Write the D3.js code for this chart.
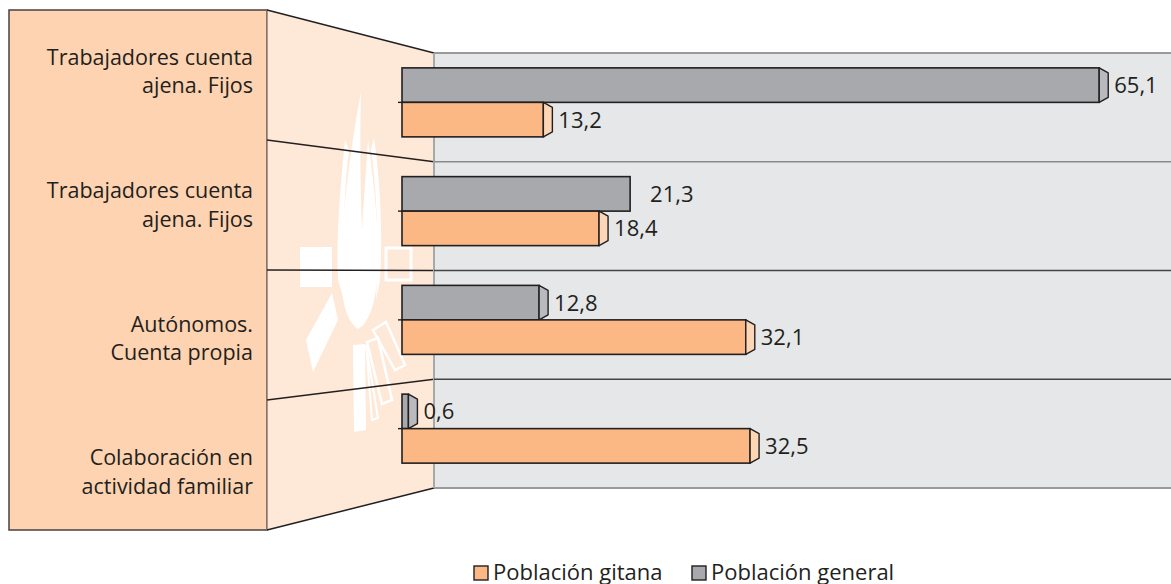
<!DOCTYPE html>
<html><head><meta charset="utf-8">
<script src="https://cdn.jsdelivr.net/npm/d3@7"></script>
<style>body{margin:0;background:#fff}svg{display:block}text{font-family:"Open Sans",sans-serif;fill:#231f20}</style>
</head><body><svg id="c" width="1171" height="584"></svg>
<script>
const categories = [
  ["Trabajadores cuenta","ajena. Fijos"],
  ["Trabajadores cuenta","ajena. Fijos"],
  ["Autónomos.","Cuenta propia"],
  ["Colaboración en","actividad familiar"]
];
const general = [65.1, 21.3, 12.8, 0.6];
const gitana  = [13.2, 18.4, 32.1, 32.5];
const seriesNames = ["Población gitana", "Población general"];
const noCap = [false, true, false, false]; // general bar 2 drawn without end cap in original

const svg = d3.select("#c");
const fmt = v => d3.format(".1f")(v).replace(".", ",");
const idx = d3.range(categories.length);

const plotL = 434, plotR = 1171, plotT = 53, plotB = 488;
const panL = 9, panR = 267, panT = 10, panB = 530;
const y = d3.scaleBand().domain(idx).range([plotT, plotB]);
const yL = d3.scaleBand().domain(idx).range([panT, panB]);
const yLab = d3.scaleBand().domain(idx).range([3, 537]);
const x = d3.scaleLinear().domain([0, 70]).range([402, 402 + 70 * 10.71]);
const barH = 34.5, capW = 9, capIn = 5;

// left panel
svg.append("rect").attr("x", panL).attr("y", panT).attr("width", panR - panL).attr("height", panB - panT)
  .attr("fill", "#fdd3b1").attr("stroke", "#4a4040").attr("stroke-width", 1.5);
// trapezoid side
svg.append("path").attr("d", `M${panR},${panT}L${plotL},${plotT}L${plotL},${plotB}L${panR},${panB}Z`).attr("fill", "#fee9d8");
svg.append("line").attr("x1", panR).attr("x2", panR).attr("y1", panT).attr("y2", panB).attr("stroke", "#8c7b72").attr("stroke-width", 1.5);

// watermark logo (decoration)
const wm = svg.append("g").attr("fill", "#fff").attr("stroke", "none");
wm.append("path").attr("d", "M361,92 C352,140 345,190 342,240 C338,290 344,320 358,329 C372,322 380,290 378,240 C376,200 372,170 368,140 C366,170 364,200 362,230 C360,180 360,130 361,92Z");
wm.append("path").attr("d", "M345,140 C340,190 336,240 338,280 L344,300 C342,250 344,190 349,150Z");
wm.append("path").attr("d", "M374,138 C380,180 383,230 380,280 L376,300 C379,250 377,190 371,150Z");
wm.append("rect").attr("x", 300).attr("y", 247).attr("width", 32).attr("height", 40);
wm.append("rect").attr("x", 386).attr("y", 248).attr("width", 25).attr("height", 32).attr("fill", "none").attr("stroke", "#fff").attr("stroke-width", 3);
wm.append("path").attr("d", "M332,293 L338,320 L313,372 L306,340Z");
wm.append("path").attr("d", "M353,345 L365,344 L366,430 L354,432Z");
wm.append("path").attr("d", "M367,342 L378,338 L392,400 L382,404Z").attr("fill", "none").attr("stroke", "#fff").attr("stroke-width", 2.5);
wm.append("path").attr("d", "M373,330 L386,322 L405,365 L395,370Z").attr("fill", "none").attr("stroke", "#fff").attr("stroke-width", 2.5);
wm.append("path").attr("d", "M366,345 L372,420 L378,418Z").attr("fill", "none").attr("stroke", "#fff").attr("stroke-width", 2);

// trapezoid edges
svg.append("line").attr("x1", panR).attr("y1", panT).attr("x2", plotL).attr("y2", plotT).attr("stroke", "#231f20").attr("stroke-width", 1.5);
svg.append("line").attr("x1", panR).attr("y1", panB).attr("x2", plotL).attr("y2", plotB).attr("stroke", "#231f20").attr("stroke-width", 1.5);
// divider lines across side
idx.slice(1).forEach(i => {
  svg.append("line").attr("x1", panR).attr("y1", yL(i)).attr("x2", plotL).attr("y2", y(i))
    .attr("stroke", "#231f20").attr("stroke-width", 1.5);
});

// plot area
svg.append("rect").attr("x", plotL).attr("y", plotT).attr("width", plotR - plotL).attr("height", plotB - plotT).attr("fill", "#e6e7e8");
svg.append("line").attr("x1", plotL).attr("x2", plotR).attr("y1", plotT).attr("y2", plotT).attr("stroke", "#9a9a9c").attr("stroke-width", 2);
svg.append("line").attr("x1", plotL).attr("x2", plotR).attr("y1", plotB).attr("y2", plotB).attr("stroke", "#9a9a9c").attr("stroke-width", 2);
svg.append("line").attr("x1", plotL).attr("x2", plotL).attr("y1", plotT).attr("y2", plotB).attr("stroke", "#a7a8aa").attr("stroke-width", 2);
idx.slice(1).forEach(i => {
  svg.append("line").attr("x1", plotL).attr("x2", plotR).attr("y1", y(i)).attr("y2", y(i))
    .attr("stroke", i === 1 ? "#8a8a8c" : "#444446").attr("stroke-width", 1.5);
});

// category labels
const cat = svg.append("g");
idx.forEach(i => {
  const cy = yLab(i) + yLab.bandwidth() / 2;
  const t = cat.append("text").attr("text-anchor", "end").attr("font-size", 21.5).attr("x", 253);
  categories[i].forEach((ln, j) => {
    t.append("tspan").attr("x", 253).attr("y", cy - 5 + j * 28.5).text(ln);
  });
});

// bars
const bars = [
  {vals: general, fill: "#a7a9ac", cap: "#b9babd", off: -barH},
  {vals: gitana, fill: "#fbb884", cap: "#fdd6b5", off: 0}
];
bars.forEach((s, si) => {
  const g = svg.append("g");
  idx.forEach(i => {
    const mid = y(i) + y.bandwidth() / 2 - 5;
    const t = mid + s.off, b = t + barH;
    const x0 = x(0), x1 = x(s.vals[i]);
    const hasCap = !(si === 0 && noCap[i]);
    g.append("rect").attr("x", x0).attr("y", t).attr("width", x1 - x0).attr("height", barH)
      .attr("fill", s.fill).attr("stroke", "#231f20").attr("stroke-width", 1.6);
    if (hasCap) {
      g.append("path").attr("d", `M${x1},${t}L${x1 + capW},${t + capIn}L${x1 + capW},${b - capIn}L${x1},${b}Z`)
        .attr("fill", s.cap).attr("stroke", "#231f20").attr("stroke-width", 1.4).attr("stroke-linejoin", "round");
    }
    g.append("text").attr("x", x1 + (hasCap ? capW + 6 : 20)).attr("y", (t + b) / 2 + 8)
      .attr("font-size", 22).text(fmt(s.vals[i]));
  });
});
// small ticks at bar pairs
idx.forEach(i => {
  const mid = y(i) + y.bandwidth() / 2 - 5;
  svg.append("line").attr("x1", 398).attr("x2", x(0)).attr("y1", mid).attr("y2", mid).attr("stroke", "#231f20").attr("stroke-width", 1.4);
});

// legend
const legendItems = [
  {name: seriesNames[0], fill: "#fbb884", x: 474},
  {name: seriesNames[1], fill: "#a7a9ac", x: 692}
];
legendItems.forEach(d => {
  svg.append("rect").attr("x", d.x).attr("y", 566).attr("width", 14).attr("height", 14)
    .attr("fill", d.fill).attr("stroke", "#231f20").attr("stroke-width", 1.4);
  svg.append("text").attr("x", d.x + 19).attr("y", 580).attr("font-size", 22).text(d.name);
});
</script></body></html>
